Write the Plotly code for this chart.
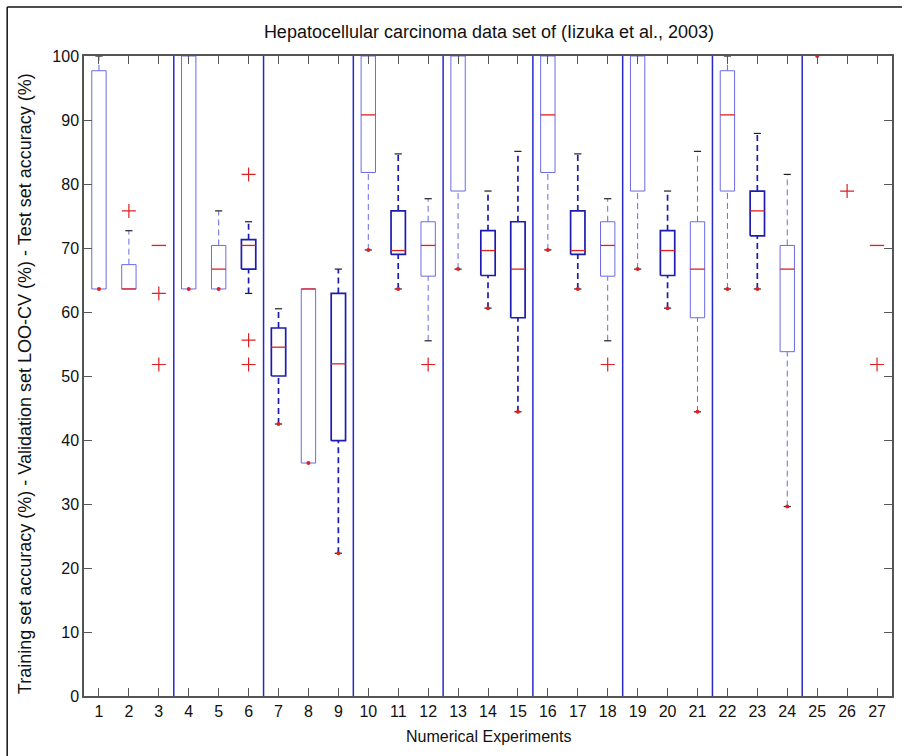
import plotly.graph_objects as go

# Experiments 1..27: box statistics (accuracy, %)
experiments = list(range(1, 28))
q1 = [63.6, 63.6, 70.4, 63.6, 63.6, 66.7, 50.0, 36.4, 39.9,
      81.8, 69.0, 65.6, 78.9, 65.7, 59.1, 81.8, 69.0, 65.6,
      78.9, 65.7, 59.1, 78.9, 71.9, 53.8, 100.0, 100.0, 70.4]
# None: median coincides with a box edge at the axis limit and is not drawn
median = [None, 63.6, 70.4, None, 66.7, 70.4, 54.5, 63.6, 51.9,
          90.8, 69.6, 70.4, None, 69.6, 66.7, 90.8, 69.6, 70.4,
          None, 69.6, 66.7, 90.8, 75.8, 66.7, None, None, 70.4]
q3 = [97.7, 67.4, 70.4, 100.0, 70.4, 71.3, 57.5, 63.6, 62.9,
      100.0, 75.8, 74.1, 100.0, 72.7, 74.1, 100.0, 75.8, 74.1,
      100.0, 72.7, 74.1, 97.7, 78.9, 70.4, 100.0, 100.0, 70.4]
whisker_low = [63.6, 63.6, 70.4, 63.6, 63.6, 62.9, 42.5, 36.4, 22.3,
               69.7, 63.6, 55.5, 66.7, 60.6, 44.4, 69.7, 63.6, 55.5,
               66.7, 60.6, 44.4, 63.6, 63.6, 29.6, 100.0, 100.0, 70.4]
whisker_high = [100.0, 72.7, 70.4, 100.0, 75.8, 74.1, 60.5, 63.6, 66.7,
                100.0, 84.7, 77.7, 100.0, 78.9, 85.1, 100.0, 84.7, 77.7,
                100.0, 78.9, 85.1, 100.0, 87.9, 81.5, 100.0, 100.0, 70.4]

# Outliers (experiment, value)
outlier_exp = [2, 3, 3, 6, 6, 6, 12, 18, 26, 27]
outlier_val = [75.8, 62.9, 51.8, 81.5, 55.6, 51.8, 51.8, 51.8, 78.9, 51.8]

# Experiments whose lowest observation is marked with a dot
dot_exps = [1, 4, 5, 7, 8, 9, 10, 11, 13, 14, 15, 16, 17, 19, 20, 21, 22, 23, 24, 25]

# Boxes drawn with the heavier outline
heavy_exps = [6, 7, 9, 11, 14, 15, 17, 20, 23]

# Group separators (three experiments per group)
separators = [3.5, 6.5, 9.5, 12.5, 15.5, 18.5, 21.5, 24.5]
y_ticks = list(range(0, 101, 10))

HALF_W = 0.24
CAP_W = 0.12
LIGHT = "#6a6ae6"
HEAVY = "#1c1cae"
RED = "#e02020"

fig = go.Figure()


def outline_paths(exps):
    xs, ys = [], []
    for e in exps:
        i = e - 1
        if q3[i] - q1[i] <= 0:
            continue
        xs += [e - HALF_W, e + HALF_W, e + HALF_W, e - HALF_W, e - HALF_W, None]
        ys += [q1[i], q1[i], q3[i], q3[i], q1[i], None]
    return xs, ys


def whisker_paths(exps):
    xs, ys = [], []
    for e in exps:
        i = e - 1
        if whisker_high[i] > q3[i]:
            xs += [e, e, None]
            ys += [q3[i], whisker_high[i], None]
        if whisker_low[i] < q1[i]:
            xs += [e, e, None]
            ys += [whisker_low[i], q1[i], None]
    return xs, ys


light_exps = [e for e in experiments if e not in heavy_exps]

for group, color, width in [(light_exps, LIGHT, 1.0), (heavy_exps, HEAVY, 1.7)]:
    wx, wy = whisker_paths(group)
    fig.add_trace(go.Scatter(x=wx, y=wy, mode="lines", hoverinfo="skip",
                             line=dict(color=color, width=width, dash="6px,4px")))
    bx, by = outline_paths(group)
    fig.add_trace(go.Scatter(x=bx, y=by, mode="lines", hoverinfo="skip",
                             line=dict(color=color, width=width)))

# Whisker caps
cx, cy = [], []
for e in experiments:
    i = e - 1
    if whisker_high[i] > q3[i]:
        cx += [e - CAP_W, e + CAP_W, None]
        cy += [whisker_high[i], whisker_high[i], None]
    if whisker_low[i] < q1[i]:
        cx += [e - CAP_W, e + CAP_W, None]
        cy += [whisker_low[i], whisker_low[i], None]
fig.add_trace(go.Scatter(x=cx, y=cy, mode="lines", hoverinfo="skip",
                         line=dict(color="#202020", width=1.2)))

# Medians
mx, my = [], []
for e in experiments:
    m = median[e - 1]
    if m is None:
        continue
    mx += [e - HALF_W, e + HALF_W, None]
    my += [m, m, None]
fig.add_trace(go.Scatter(x=mx, y=my, mode="lines", hoverinfo="skip",
                         line=dict(color=RED, width=1.3)))

# Outliers
fig.add_trace(go.Scatter(x=outlier_exp, y=outlier_val, mode="markers",
                         hoverinfo="skip",
                         marker=dict(symbol="cross-thin", size=10,
                                     line=dict(color=RED, width=1.2))))

# Lowest-observation dots
fig.add_trace(go.Scatter(x=dot_exps, y=[whisker_low[e - 1] for e in dot_exps],
                         mode="markers", hoverinfo="skip",
                         marker=dict(symbol="circle", size=4, color=RED)))

shapes = []
for s in separators:
    shapes.append(dict(type="line", xref="x", yref="paper", x0=s, x1=s, y0=0, y1=1,
                       line=dict(color="#2828c8", width=1.5)))

# Outer frame (top and left edges) around the figure
L, W, T, H = 84, 810, 56, 640
def px(x):
    return (x - L) / W
def py(y):
    return 1 - (y - T) / H
for x0, y0, x1, y1 in [(7, 7, 904, 7), (7, 7, 7, 760)]:
    shapes.append(dict(type="line", xref="paper", yref="paper",
                       x0=px(x0), x1=px(x1), y0=py(y0), y1=py(y1),
                       line=dict(color="#101010", width=1.5)))

font_family = "Liberation Sans, Arial, sans-serif"

fig.update_layout(
    width=904, height=756,
    margin=dict(l=L, r=904 - L - W, t=T, b=756 - T - H),
    paper_bgcolor="white", plot_bgcolor="white",
    showlegend=False,
    font=dict(family=font_family, size=16, color="#111"),
    title=dict(text="Hepatocellular carcinoma data set of (Iizuka et al., 2003)",
               x=489 / 904, xanchor="center", y=1 - 32 / 756, yanchor="middle",
               font=dict(size=18, family=font_family, color="#111")),
    shapes=shapes,
    annotations=[
        dict(text="Numerical Experiments", xref="paper", yref="paper",
             x=0.5, y=py(736), xanchor="center", yanchor="middle",
             showarrow=False, font=dict(size=16)),
        dict(text="Training set accuracy (%) - Validation set LOO-CV (%) - Test set accuracy (%)",
             xref="paper", yref="paper", x=px(25), y=py(384), textangle=-90,
             xanchor="center", yanchor="middle", showarrow=False,
             font=dict(size=18)),
    ],
)

fig.update_xaxes(range=[0.5, 27.5], tickmode="array", tickvals=experiments,
                 ticktext=[str(e) for e in experiments],
                 ticks="inside", ticklen=8, tickcolor="#555", tickwidth=1,
                 showline=True, linecolor="#555", linewidth=1.5, mirror="ticks",
                 showgrid=False, zeroline=False, tickfont=dict(size=16))
fig.update_yaxes(range=[0, 100], tickmode="array", tickvals=y_ticks,
                 ticks="inside", ticklen=8, tickcolor="#555", tickwidth=1,
                 showline=True, linecolor="#555", linewidth=1.5, mirror="ticks",
                 showgrid=False, zeroline=False, tickfont=dict(size=16))

fig.write_html("out.html")
